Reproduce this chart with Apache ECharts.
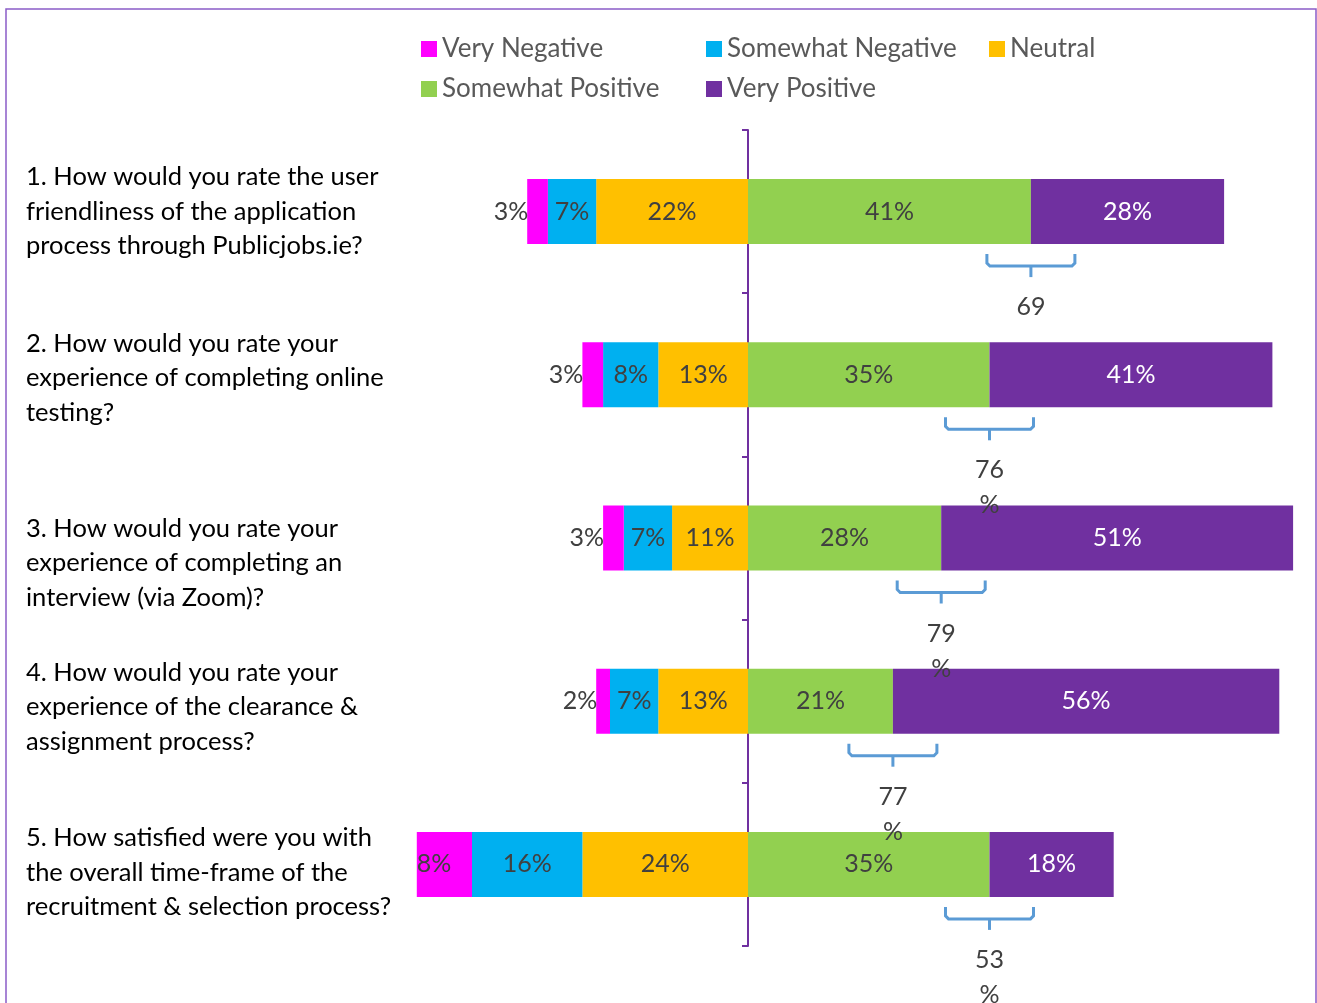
<!DOCTYPE html>
<html>
<head>
<meta charset="utf-8">
<script src="https://cdn.jsdelivr.net/npm/echarts@6/dist/echarts.min.js"></script>
<style>
html,body{margin:0;padding:0;background:#fff;}
#chart{width:1317px;height:1003px;}
</style>
</head>
<body>
<div id="chart"></div>
<script>
// ---- data ----
const questions = [
  "1. How would you rate the user\nfriendliness of the application\nprocess through Publicjobs.ie?",
  "2. How would you rate your\nexperience of completing online\ntesting?",
  "3. How would you rate your\nexperience of completing an\ninterview (via Zoom)?",
  "4. How would you rate your\nexperience of the clearance &\nassignment process?",
  "5. How satisfied were you with\nthe overall time-frame of the\nrecruitment & selection process?"
];
const veryNegative     = [3, 3, 3, 2, 8];
const somewhatNegative = [7, 8, 7, 7, 16];
const neutral          = [22, 13, 11, 13, 24];
const somewhatPositive = [41, 35, 28, 21, 35];
const veryPositive     = [28, 41, 51, 56, 18];
const positiveTotalLabels = ["69", "76\n%", "79\n%", "77\n%", "53\n%"];

// ---- style ----
const FONT = 'Lato';
const FS = 25;
const QFS = 25.5;
const colors = {
  "Very Negative": "#FF00FF",
  "Somewhat Negative": "#00B0F0",
  "Neutral": "#FFC000",
  "Somewhat Positive": "#92D050",
  "Very Positive": "#7030A0"
};
const labelBase = { show: true, fontSize: FS, fontFamily: FONT, color: '#404040',
  formatter: p => Math.abs(p.value) + '%' };
const qOffsets = [0, 3, 25, 6, 8];

const chart = echarts.init(document.getElementById('chart'), null, { renderer: 'canvas' });

const rich = { b: { fontSize: QFS, fontFamily: FONT, color: '#000', lineHeight: 34.5 } };
qOffsets.forEach((o, i) => {
  rich['s' + i] = { fontSize: 1, lineHeight: Math.max(1, o * 2) };
});

const legendCommon = {
  orient: 'vertical', padding: 0, itemGap: 14, itemWidth: 16, itemHeight: 16, icon: 'rect',
  textStyle: { fontSize: 26, fontFamily: FONT, color: '#595959', lineHeight: 26 }
};

const option = {
  animation: false,
  backgroundColor: '#fff',
  legend: [
    Object.assign({ data: ["Very Negative", "Somewhat Positive"], left: 421, top: 36 }, legendCommon),
    Object.assign({ data: ["Somewhat Negative", "Very Positive"], left: 706, top: 36 }, legendCommon),
    Object.assign({ data: ["Neutral"], left: 989, top: 36 }, legendCommon)
  ],
  grid: { left: 403, right: 17, top: 130, bottom: 57, containLabel: false, outerBoundsMode: 'none' },
  xAxis: { type: 'value', min: -50, max: 80, show: false },
  yAxis: {
    type: 'category', data: questions, inverse: true,
    axisLine: { show: true, onZero: true, lineStyle: { color: '#7030A0', width: 2 } },
    axisTick: { show: true, length: 6, lineStyle: { color: '#7030A0', width: 2 } },
    axisLabel: {
      margin: 377, align: 'left', fontSize: QFS, fontFamily: FONT, color: '#000', lineHeight: 34.5,
      formatter: (value, index) => {
        const lines = value.split('\n').map(l => '{b|' + l + '}').join('\n');
        return qOffsets[index] > 0 ? '{s' + index + '|\u200b}\n' + lines : lines;
      },
      rich: rich
    }
  },
  graphic: [{
    type: 'rect', silent: true, z: 100,
    shape: { x: 6, y: 9, width: 1310, height: 1010 },
    style: { fill: null, stroke: '#8A5CC7', lineWidth: 1.5 }
  }],
  series: [
    {
      name: 'Neutral', type: 'bar', stack: 'total', barWidth: 65,
      itemStyle: { color: colors['Neutral'] },
      label: Object.assign({ position: 'inside' }, labelBase),
      data: neutral.map(v => -v)
    },
    {
      name: 'Somewhat Negative', type: 'bar', stack: 'total', barWidth: 65,
      itemStyle: { color: colors['Somewhat Negative'] },
      label: Object.assign({ position: 'inside' }, labelBase),
      data: somewhatNegative.map(v => -v)
    },
    {
      name: 'Very Negative', type: 'bar', stack: 'total', barWidth: 65,
      itemStyle: { color: colors['Very Negative'] },
      label: Object.assign({ position: 'inside' }, labelBase),
      data: veryNegative.map(v => v >= 5
        ? { value: -v, label: { position: 'insideLeft', distance: 0 } }
        : { value: -v, label: { position: 'left', distance: -1 } })
    },
    {
      name: 'Somewhat Positive', type: 'bar', stack: 'total', barWidth: 65,
      itemStyle: { color: colors['Somewhat Positive'] },
      label: Object.assign({ position: 'inside' }, labelBase),
      data: somewhatPositive
    },
    {
      name: 'Very Positive', type: 'bar', stack: 'total', barWidth: 65,
      itemStyle: { color: colors['Very Positive'] },
      label: Object.assign({}, labelBase, { position: 'inside', color: '#fff' }),
      data: veryPositive
    },
    {
      name: 'bracket', type: 'custom', silent: true, z: 5, clip: false,
      data: somewhatPositive.map((v, i) => [v, i]),
      encode: { x: 0, y: 1 },
      renderItem: function (params, api) {
        const i = params.dataIndex;
        const c = api.coord([api.value(0), api.value(1)]);
        const x = c[0];
        const yb = c[1] + 32.5;
        const h = 44;
        return {
          type: 'group',
          children: [
            { type: 'polyline', shape: { points: [[x - h, yb + 10], [x - h, yb + 19], [x - h + 3, yb + 22], [x + h - 3, yb + 22], [x + h, yb + 19], [x + h, yb + 10]] },
              style: { stroke: '#5B9BD5', lineWidth: 3, fill: null } },
            { type: 'line', shape: { x1: x, y1: yb + 22, x2: x, y2: yb + 33 },
              style: { stroke: '#5B9BD5', lineWidth: 3 } },
            { type: 'text', style: { text: positiveTotalLabels[i], x: x, y: yb + 63 - 17.5, align: 'center', verticalAlign: 'top',
              font: FS + 'px ' + FONT, fill: '#404040', lineHeight: 35 } }
          ]
        };
      }
    }
  ]
};
chart.setOption(option);
</script>
</body>
</html>
